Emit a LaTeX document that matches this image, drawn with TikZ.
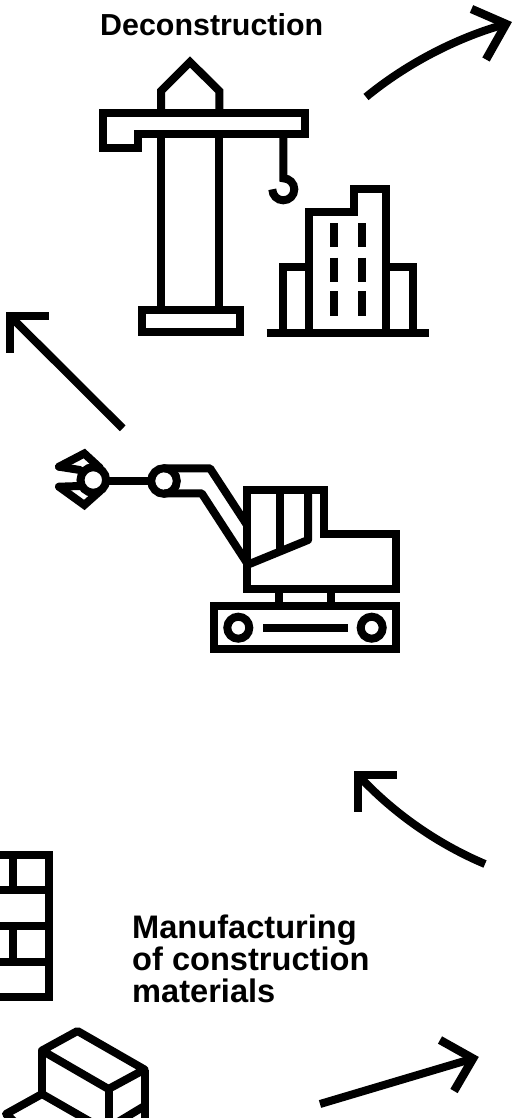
\documentclass[tikz,border=0pt]{standalone}
\usepackage{fontspec}
\setmainfont{Liberation Sans}
\tikzset{
  icon/.style={draw=black,line width=8pt,line join=miter,miter limit=10,line cap=butt},
  soft/.style={icon,line join=round},
  claw/.style={icon,line cap=round},
  flow/.style={draw=black,line width=8pt,line cap=butt},
  flowhead/.style={draw=black,line width=8.4pt,line cap=butt,line join=miter,miter limit=10},
  heading/.style={font=\bfseries\fontsize{30.4}{32}\selectfont,inner sep=0pt,anchor=base west},
  headingb/.style={font=\bfseries\fontsize{32.6}{32}\selectfont,inner sep=0pt,anchor=north west,align=left},
}
\begin{document}
\begin{tikzpicture}[x=1pt,y=-1pt]
\useasboundingbox (0,0) rectangle (515,1118);
\clip (0,0) rectangle (515,1118);

% texts
\node[heading] (deconstruction) at (100,36) {Deconstruction};
\node[headingb] (manufacturing) at (132,915) {Manufacturing\\of construction\\materials};

% crane
\draw[icon] (161,113.3) -- (161,91) -- (190,62) -- (219.3,91) -- (219.3,113.3);
\draw[icon] (103,113.3) -- (304.7,113.3) -- (304.7,134.3) -- (138,134.3) -- (138,147.7) -- (103,147.7) -- cycle;
\draw[icon] (161,134.3) -- (161,310.3);
\draw[icon] (219.3,134.3) -- (219.3,310.3);
\draw[icon] (142.3,310.3) rectangle (239.7,332.3);
\draw[icon] (283.3,134.3) -- (283.3,178.3) .. controls (289.4,178.3) and (294.3,183.2) .. (294.3,189.3) .. controls (294.3,195.4) and (289.4,200.3) .. (283.3,200.3) .. controls (277.2,200.3) and (272.3,195.4) .. (272.3,189.3);

% buildings
\draw[icon] (266.7,332.5) -- (429,332.5);
\draw[icon] (309,332.5) -- (309,212) -- (353.7,212) -- (353.7,188.7) -- (386.3,188.7) -- (386.3,332.5);
\draw[icon] (283,332.5) -- (283,267) -- (309,267);
\draw[icon] (386.3,267) -- (413,267) -- (413,332.5);
\foreach \wx in {333.7,362}{
  \draw[icon] (\wx,223.3) -- (\wx,247.3);
  \draw[icon] (\wx,257.7) -- (\wx,281.7);
  \draw[icon] (\wx,291) -- (\wx,315.7);
}

% excavator
\draw[icon] (247,563) -- (247,490) -- (324.3,490) -- (324.3,534.3) -- (396,534.3) -- (396,589) -- (247,589) -- (247,563);
\draw[soft] (247,565) -- (308,540) -- (308,490);
\draw[icon] (280.3,490) -- (280.3,552);
\draw[icon] (278.7,589) -- (278.7,606.3);
\draw[icon] (331,589) -- (331,606.3);
\draw[icon] (213.7,606.3) rectangle (396,649.3);
\draw[icon] (238.3,627.7) circle[radius=11];
\draw[icon] (371.7,627.7) circle[radius=11];
\draw[icon] (263.3,627.7) -- (347.7,627.7);
\draw[soft] (164,468.3) -- (210,468.3) -- (247,525);
\draw[soft] (164,493.3) -- (201.7,493.3) -- (247,563);
\draw[icon] (164,481) circle[radius=12.8];
\draw[icon] (106,480.5) -- (151,480.5);
\draw[icon] (93.3,480) circle[radius=12.8];
\draw[claw] (100,468) -- (84.3,453.5) -- (59,466.7);
\draw[claw] (59,466.7) -- (80,470);
\draw[claw] (100,491) -- (84.3,505) -- (59,486.7);
\draw[claw] (59,486.7) -- (80,486);

% bricks
\draw[icon] (-6,854.5) -- (49.3,854.5) -- (49.3,997) -- (-6,997);
\draw[icon] (-6,890) -- (49.3,890);
\draw[icon] (-6,926) -- (49.3,926);
\draw[icon] (-6,961.7) -- (49.3,961.7);
\draw[icon] (13.3,854.5) -- (13.3,890);
\draw[icon] (13.3,926) -- (13.3,961.7);

% boxes
\draw[soft] (42,1050.5) -- (77.5,1031) -- (144.5,1069.5) -- (108.5,1089) -- cycle;
\draw[soft] (42,1050.5) -- (42,1094);
\draw[soft] (108.5,1089) -- (108.5,1125);
\draw[soft] (144.5,1069.5) -- (144.5,1125);
\draw[soft] (144.5,1106) -- (118,1122);
\draw[soft] (42,1094) -- (6,1114) -- (18,1125);
\draw[soft] (42,1094) -- (96,1125);

% cycle arrows
\coordinate (a1s) at (366,97);
\coordinate (a1t) at (506,24);
\coordinate (a1l) at (471.5,9);
\coordinate (a1r) at (486,59.5);
\draw[flow] (a1s) .. controls (405,65) and (455,38) .. (a1t);
\draw[flowhead] (a1l) -- (a1t) -- (a1r);

\coordinate (a2s) at (122.7,428.3);
\coordinate (a2t) at (10,316);
\coordinate (a2l) at (48.5,316);
\coordinate (a2r) at (10,353.3);
\draw[flow] (a2s) -- (a2t);
\draw[flowhead] (a2l) -- (a2t) -- (a2r);

\coordinate (a3s) at (485,864);
\coordinate (a3t) at (358,775);
\coordinate (a3l) at (396.7,775);
\coordinate (a3r) at (358,811.7);
\draw[flow] (a3s) .. controls (440,845) and (395,815) .. (a3t);
\draw[flowhead] (a3l) -- (a3t) -- (a3r);

\coordinate (a4s) at (320,1104);
\coordinate (a4t) at (473,1058.5);
\coordinate (a4l) at (440,1040);
\coordinate (a4r) at (454,1091);
\draw[flow] (a4s) -- (a4t);
\draw[flowhead] (a4l) -- (a4t) -- (a4r);
\end{tikzpicture}
\end{document}
